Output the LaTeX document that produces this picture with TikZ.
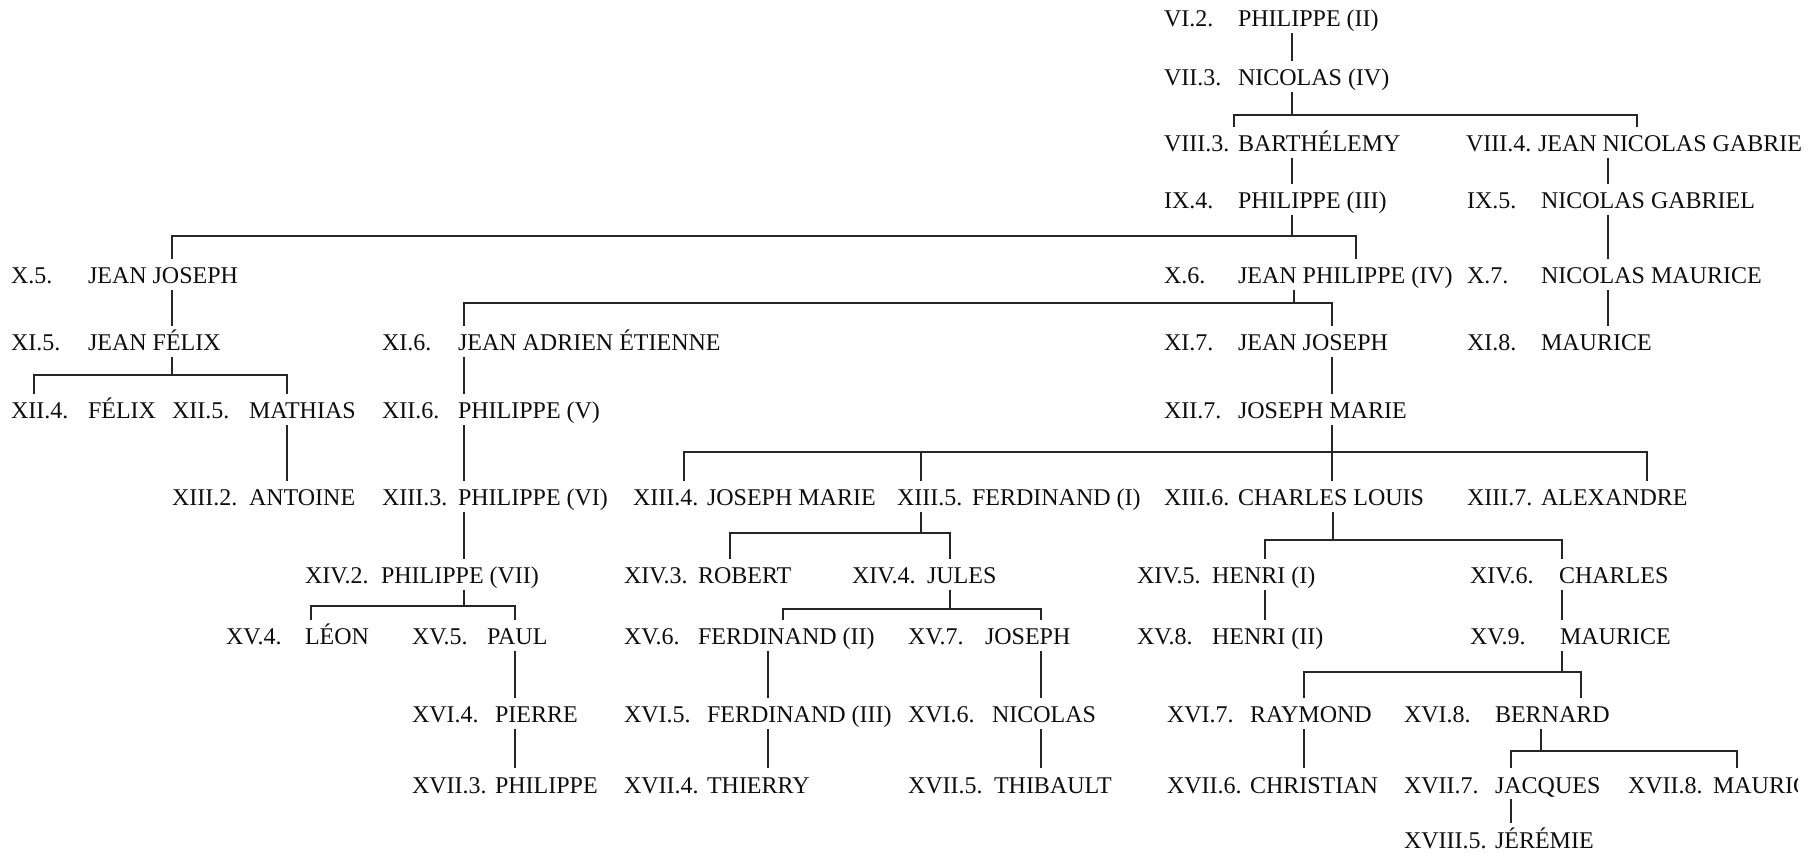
\documentclass[tikz,border=0pt]{standalone}
\usepackage{fontspec}
\setmainfont{Liberation Serif}
\newcommand\pers[6]{\node[txt] (#1n) at (#2,#4) {#5};\node[txt] (#1) at (#3,#4) {#6};}
\newcommand\vl[3]{\draw[ln] (#1.south-|#2,0) -- (#3.north-|#2,0);}
\newcommand\br[5]{\draw[ln] (#1.south-|#2,0) -- (#2,#3) -- (#5,#3) -- (#4.north-|#5,0);}
\begin{document}
\begin{tikzpicture}[x=0.5pt,y=-0.5pt,
  txt/.style={anchor=base west,inner sep=0pt,outer sep=0pt,text height=8pt,text depth=0pt,font=\fontsize{12}{14}\selectfont,text=black!95},
  ln/.style={draw=black!85,line width=0.6pt,shorten <=3pt,shorten >=4.5pt}]
\useasboundingbox (0,0) rectangle (1820,854);
\begin{scope}
\clip (0,0) -- (1800,0) -- (1800,500) -- (1797,500) -- (1797,854) -- (0,854) -- cycle;
% persons: id, x number, x name, baseline, number, name
\pers{A}{1164}{1238}{27}{VI.2.}{PHILIPPE (II)}
\pers{B}{1164}{1238}{86}{VII.3.}{NICOLAS (IV)}
\pers{C}{1164}{1238}{152}{VIII.3.}{BARTHÉLEMY}
\pers{D}{1466}{1538}{152}{VIII.4.}{JEAN NICOLAS GABRIEL}
\pers{E}{1164}{1238}{209}{IX.4.}{PHILIPPE (III)}
\pers{F}{1467}{1541}{209}{IX.5.}{NICOLAS GABRIEL}
\pers{G}{11}{88}{284}{X.5.}{JEAN JOSEPH}
\pers{H}{1164}{1238}{284}{X.6.}{JEAN PHILIPPE (IV)}
\pers{I}{1467}{1541}{284}{X.7.}{NICOLAS MAURICE}
\pers{J}{11}{88}{351}{XI.5.}{JEAN FÉLIX}
\pers{K}{382}{458}{351}{XI.6.}{JEAN ADRIEN ÉTIENNE}
\pers{L}{1164}{1238}{351}{XI.7.}{JEAN JOSEPH}
\pers{M}{1467}{1541}{351}{XI.8.}{MAURICE}
\pers{N}{11}{88}{419}{XII.4.}{FÉLIX}
\pers{O}{172}{249}{419}{XII.5.}{MATHIAS}
\pers{P}{382}{458}{419}{XII.6.}{PHILIPPE (V)}
\pers{Q}{1164}{1238}{419}{XII.7.}{JOSEPH MARIE}
\pers{R}{172}{249}{506}{XIII.2.}{ANTOINE}
\pers{S}{382}{458}{506}{XIII.3.}{PHILIPPE (VI)}
\pers{T}{633}{707}{506}{XIII.4.}{JOSEPH MARIE}
\pers{U}{897}{972}{506}{XIII.5.}{FERDINAND (I)}
\pers{V}{1164}{1238}{506}{XIII.6.}{CHARLES LOUIS}
\pers{W}{1467}{1541}{506}{XIII.7.}{ALEXANDRE}
\pers{X}{305}{381}{584}{XIV.2.}{PHILIPPE (VII)}
\pers{Y}{624}{698}{584}{XIV.3.}{ROBERT}
\pers{Z}{852}{927}{584}{XIV.4.}{JULES}
\pers{AA}{1137}{1212}{584}{XIV.5.}{HENRI (I)}
\pers{AB}{1470}{1559}{584}{XIV.6.}{CHARLES}
\pers{AC}{226}{305}{645}{XV.4.}{LÉON}
\pers{AD}{412}{487}{645}{XV.5.}{PAUL}
\pers{AE}{624}{698}{645}{XV.6.}{FERDINAND (II)}
\pers{AF}{908}{985}{645}{XV.7.}{JOSEPH}
\pers{AG}{1137}{1212}{645}{XV.8.}{HENRI (II)}
\pers{AH}{1470}{1560}{645}{XV.9.}{MAURICE}
\pers{AI}{412}{495}{723}{XVI.4.}{PIERRE}
\pers{AJ}{624}{707}{723}{XVI.5.}{FERDINAND (III)}
\pers{AK}{908}{992}{723}{XVI.6.}{NICOLAS}
\pers{AL}{1167}{1250}{723}{XVI.7.}{RAYMOND}
\pers{AM}{1404}{1495}{723}{XVI.8.}{BERNARD}
\pers{AN}{412}{495}{793}{XVII.3.}{PHILIPPE}
\pers{AO}{624}{707}{793}{XVII.4.}{THIERRY}
\pers{AP}{908}{994}{793}{XVII.5.}{THIBAULT}
\pers{AQ}{1167}{1250}{793}{XVII.6.}{CHRISTIAN}
\pers{AR}{1404}{1495}{793}{XVII.7.}{JACQUES}
\pers{AS}{1628}{1713}{793}{XVII.8.}{MAURICE}
\pers{AT}{1404}{1495}{848}{XVIII.5.}{JÉRÉMIE}
\end{scope}
% connectors
\vl{A}{1292}{B}
\br{B}{1292}{115}{C}{1234}
\br{B}{1292}{115}{D}{1637}
\vl{C}{1292}{E}
\vl{D}{1608}{F}
\br{E}{1292}{236}{G}{172}
\br{E}{1292}{236}{H}{1356}
\vl{F}{1608}{I}
\vl{G}{172}{J}
\br{H}{1294}{303}{K}{464}
\br{H}{1294}{303}{L}{1332}
\vl{I}{1608}{M}
\br{J}{172}{375}{N}{34}
\br{J}{172}{375}{O}{287}
\vl{K}{464}{P}
\vl{L}{1332}{Q}
\vl{O}{287}{R}
\vl{P}{464}{S}
\br{Q}{1332}{452}{T}{684}
\br{Q}{1332}{452}{U}{921}
\br{Q}{1332}{452}{V}{1332}
\br{Q}{1332}{452}{W}{1647}
\vl{S}{464}{X}
\br{U}{921}{533}{Y}{730}
\br{U}{921}{533}{Z}{950}
\br{V}{1333}{540}{AA}{1265}
\br{V}{1333}{540}{AB}{1562}
\br{X}{464}{606}{AC}{311}
\br{X}{464}{606}{AD}{515}
\br{Z}{950}{609}{AE}{783}
\br{Z}{950}{609}{AF}{1041}
\vl{AA}{1265}{AG}
\vl{AB}{1562}{AH}
\vl{AD}{515}{AI}
\vl{AE}{768}{AJ}
\vl{AF}{1041}{AK}
\br{AH}{1562}{672}{AL}{1304}
\br{AH}{1562}{672}{AM}{1581}
\vl{AI}{515}{AN}
\vl{AJ}{768}{AO}
\vl{AK}{1041}{AP}
\vl{AL}{1304}{AQ}
\br{AM}{1541}{751}{AR}{1511}
\br{AM}{1541}{751}{AS}{1737}
\vl{AR}{1511}{AT}
\end{tikzpicture}
\end{document}
